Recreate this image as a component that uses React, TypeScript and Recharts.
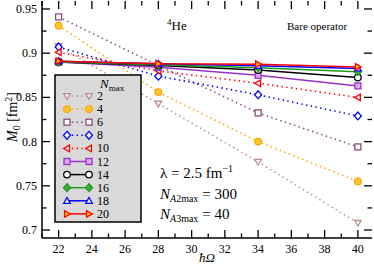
import React from 'react';
import { LineChart, Line, XAxis, YAxis, ReferenceLine } from 'recharts';

const hOmega = [22, 28, 34, 40];
const nmaxLabels = ['2', '4', '6', '8', '10', '12', '14', '16', '18', '20'];
const m2 = [0.908, 0.843, 0.777, 0.708];
const m4 = [0.931, 0.856, 0.8, 0.755];
const m6 = [0.941, 0.886, 0.8325, 0.794];
const m8 = [0.907, 0.874, 0.853, 0.829];
const m10 = [0.901, 0.88, 0.866, 0.85];
const m12 = [0.89, 0.884, 0.875, 0.863];
const m14 = [0.89, 0.886, 0.881, 0.8725];
const m16 = [0.89, 0.887, 0.8835, 0.879];
const m18 = [0.891, 0.888, 0.8857, 0.8827];
const m20 = [0.891, 0.888, 0.8876, 0.8845];
const seriesValues = [m2, m4, m6, m8, m10, m12, m14, m16, m18, m20];

const xMajorTicks = [22, 24, 26, 28, 30, 32, 34, 36, 38, 40];
const xMinorTicks = [21, 23, 25, 27, 29, 31, 33, 35, 37, 39];
const yMajorTicks = [0.7, 0.75, 0.8, 0.85, 0.9, 0.95];
const yMajorLabels = ['0.7', '0.75', '0.8', '0.85', '0.9', '0.95'];
const yMinorTicks = [0.725, 0.775, 0.825, 0.875, 0.925];

const X_DOMAIN: [number, number] = [21, 40.85];
const Y_DOMAIN: [number, number] = [0.691, 0.959];
// plot area size in px (used to express tick lengths in data units)
const PLOT_W = 330;
const PLOT_H = 237;
const MAJ = 8;
const MIN = 4.5;
const xPerPx = (X_DOMAIN[1] - X_DOMAIN[0]) / PLOT_W;
const yPerPx = (Y_DOMAIN[1] - Y_DOMAIN[0]) / PLOT_H;

const styles = [
  { color: '#bc8f8f', fill: '#fbf4f4', shape: 'tdown', dotted: true },
  { color: '#ffa500', fill: '#ffc830', shape: 'circle', dotted: true },
  { color: '#8b4a7b', fill: '#ffffff', shape: 'square', dotted: true },
  { color: '#0000ff', fill: '#ffffff', shape: 'diamond', dotted: true },
  { color: '#ff0000', fill: '#ffffff', shape: 'tleft', dotted: true },
  { color: '#9932cc', fill: '#dca8f4', shape: 'square', dotted: false },
  { color: '#000000', fill: '#ffffff', shape: 'circle', dotted: false },
  { color: '#1f9a1f', fill: '#3cb43c', shape: 'diamond', dotted: false },
  { color: '#0000ff', fill: '#e6f4ff', shape: 'tup', dotted: false },
  { color: '#ff0000', fill: '#ffc800', shape: 'tright', dotted: false },
];

const data = hOmega.map((x, i) => {
  const row: any = { x };
  seriesValues.forEach((s, j) => {
    row['n' + nmaxLabels[j]] = s[i];
  });
  return row;
});

function Marker({ shape, cx, cy, stroke, fill }: any) {
  const r = 3.3;
  const common = { stroke, fill, strokeWidth: 1.3 };
  switch (shape) {
    case 'circle':
      return <circle cx={cx} cy={cy} r={r} {...common} />;
    case 'square':
      return <rect x={cx - r + 0.3} y={cy - r + 0.3} width={2 * r - 0.6} height={2 * r - 0.6} {...common} />;
    case 'diamond':
      return <polygon points={`${cx},${cy - r - 0.6} ${cx + r + 0.2},${cy} ${cx},${cy + r + 0.6} ${cx - r - 0.2},${cy}`} {...common} />;
    case 'tdown':
      return <polygon points={`${cx - r},${cy - r * 0.75} ${cx + r},${cy - r * 0.75} ${cx},${cy + r}`} {...common} />;
    case 'tup':
      return <polygon points={`${cx - r},${cy + r * 0.75} ${cx + r},${cy + r * 0.75} ${cx},${cy - r}`} {...common} />;
    case 'tleft':
      return <polygon points={`${cx + r * 0.75},${cy - r} ${cx + r * 0.75},${cy + r} ${cx - r},${cy}`} {...common} />;
    case 'tright':
      return <polygon points={`${cx - r * 0.75},${cy - r} ${cx - r * 0.75},${cy + r} ${cx + r},${cy}`} {...common} />;
    default:
      return null;
  }
}

const serif = '"Liberation Serif", "DejaVu Serif", serif';

const BottomLabel = (props: any) => {
  const { x, y, payload } = props;
  return (
    <text x={x} y={y + 15} textAnchor="middle" fontFamily={serif} fontSize={12} fill="#000">
      {payload.value}
    </text>
  );
};

const LeftLabel = (props: any) => {
  const { x, y, index } = props;
  return (
    <text x={x - 5} y={y + 4} textAnchor="end" fontFamily={serif} fontSize={12} fill="#000">
      {yMajorLabels[index]}
    </text>
  );
};

const axisLine = { stroke: '#000', strokeWidth: 1.5 };

function tickSegments() {
  const out: any[] = [];
  const add = (key: string, a: any, b: any) =>
    out.push(
      <ReferenceLine
        key={key}
        xAxisId="b"
        yAxisId="l"
        segment={[a, b]}
        stroke="#000"
        strokeWidth={1.3}
        ifOverflow="visible"
      />
    );
  const [x0, x1] = X_DOMAIN;
  const [y0, y1] = Y_DOMAIN;
  xMajorTicks.forEach((v) => {
    add('bM' + v, { x: v, y: y0 }, { x: v, y: y0 + MAJ * yPerPx });
    add('tM' + v, { x: v, y: y1 }, { x: v, y: y1 - MAJ * yPerPx });
  });
  xMinorTicks.forEach((v) => {
    add('bm' + v, { x: v, y: y0 }, { x: v, y: y0 + MIN * yPerPx });
    add('tm' + v, { x: v, y: y1 }, { x: v, y: y1 - MIN * yPerPx });
  });
  yMajorTicks.forEach((v) => {
    add('lM' + v, { x: x0, y: v }, { x: x0 + MAJ * xPerPx, y: v });
    add('rM' + v, { x: x1, y: v }, { x: x1 - MAJ * xPerPx, y: v });
  });
  yMinorTicks.forEach((v) => {
    add('lm' + v, { x: x0, y: v }, { x: x0 + MIN * xPerPx, y: v });
    add('rm' + v, { x: x1, y: v }, { x: x1 - MIN * xPerPx, y: v });
  });
  return out;
}

export default function App() {
  const rowY0 = 96;
  const rowStep = 13.1;
  return (
    <div style={{ position: 'absolute', left: 0, top: 0, width: 374, height: 265, background: '#fff' }}>
      <LineChart width={374} height={265} data={data} margin={{ top: 1, right: 2, left: 0, bottom: 0 }}>
        <XAxis
          xAxisId="b"
          dataKey="x"
          type="number"
          domain={X_DOMAIN}
          ticks={xMajorTicks}
          interval={0}
          height={27}
          tickSize={0}
          tickMargin={0}
          tickLine={false}
          axisLine={axisLine}
          tick={<BottomLabel />}
          allowDataOverflow
        />
        <XAxis
          xAxisId="t"
          orientation="top"
          dataKey="x"
          type="number"
          domain={X_DOMAIN}
          height={0}
          tickLine={false}
          axisLine={axisLine}
          tick={false}
          allowDataOverflow
        />
        <YAxis
          yAxisId="l"
          type="number"
          domain={Y_DOMAIN}
          ticks={yMajorTicks}
          interval={0}
          width={42}
          tickSize={0}
          tickMargin={0}
          tickLine={false}
          axisLine={axisLine}
          tick={<LeftLabel />}
          allowDataOverflow
        />
        <YAxis
          yAxisId="r"
          orientation="right"
          type="number"
          domain={Y_DOMAIN}
          width={0}
          tickLine={false}
          axisLine={axisLine}
          tick={false}
          allowDataOverflow
        />
        {tickSegments()}
        {nmaxLabels.map((n, j) => {
          const st = styles[j];
          return (
            <Line
              key={n}
              xAxisId="b"
              yAxisId="l"
              dataKey={'n' + n}
              stroke={st.color}
              strokeWidth={st.dotted ? 1.6 : 1.5}
              strokeDasharray={st.dotted ? '1.4 3.4' : undefined}
              isAnimationActive={false}
              dot={(p: any) => (
                <Marker key={n + '-' + p.index} shape={st.shape} cx={p.cx} cy={p.cy} stroke={st.color} fill={st.fill} />
              )}
              activeDot={false}
            />
          );
        })}
      </LineChart>
      <svg width={374} height={265} style={{ position: 'absolute', left: 0, top: 0, pointerEvents: 'none' }}>
        <text x={167} y={30} fontFamily={serif} fontSize={13} fill="#000">
          <tspan fontSize={9} dy={-5}>4</tspan>
          <tspan dy={5}>He</tspan>
        </text>
        <text x={287} y={30} fontFamily={serif} fontSize={11} fill="#000">Bare operator</text>
        <text x={160} y={178} fontFamily={serif} fontSize={15} fill="#000">
          λ = 2.5 fm<tspan fontSize={10} dy={-6}>−1</tspan>
        </text>
        <text x={160} y={199} fontFamily={serif} fontSize={15} fill="#000">
          <tspan fontStyle="italic">N</tspan>
          <tspan fontSize={10} dy={3}><tspan fontStyle="italic">A</tspan>2max</tspan>
          <tspan dy={-3} dx={4}>= 300</tspan>
        </text>
        <text x={160} y={219} fontFamily={serif} fontSize={15} fill="#000">
          <tspan fontStyle="italic">N</tspan>
          <tspan fontSize={10} dy={3}><tspan fontStyle="italic">A</tspan>3max</tspan>
          <tspan dy={-3} dx={4}>= 40</tspan>
        </text>
        <text x={207} y={262} textAnchor="middle" fontFamily={serif} fontSize={13} fontStyle="italic" fill="#000">ħΩ</text>
        <text transform="translate(17,117) rotate(-90)" textAnchor="middle" fontFamily={serif} fontSize={14} fill="#000">
          <tspan fontStyle="italic">M</tspan>
          <tspan fontSize={10} dy={3}>0</tspan>
          <tspan dy={-3}> [fm</tspan>
          <tspan fontSize={10} dy={-5}>2</tspan>
          <tspan dy={5}>]</tspan>
        </text>
        <rect x={55} y={75} width={86} height={147} fill="#d9d9d9" stroke="#000" strokeWidth={1.5} />
        <text x={100} y={88} fontFamily={serif} fontSize={13} fill="#000">
          <tspan fontStyle="italic">N</tspan>
          <tspan fontSize={9} dy={3}>max</tspan>
        </text>
        {nmaxLabels.map((n, j) => {
          const st = styles[j];
          const y = rowY0 + j * rowStep;
          return (
            <g key={n}>
              <line
                x1={67}
                x2={89}
                y1={y}
                y2={y}
                stroke={st.color}
                strokeWidth={1.5}
                strokeDasharray={st.dotted ? '1.4 3.4' : undefined}
              />
              <Marker shape={st.shape} cx={67} cy={y} stroke={st.color} fill={st.fill} />
              <Marker shape={st.shape} cx={89} cy={y} stroke={st.color} fill={st.fill} />
              <text x={97} y={y + 4} fontFamily={serif} fontSize={12} fill="#000">{n}</text>
            </g>
          );
        })}
      </svg>
    </div>
  );
}
